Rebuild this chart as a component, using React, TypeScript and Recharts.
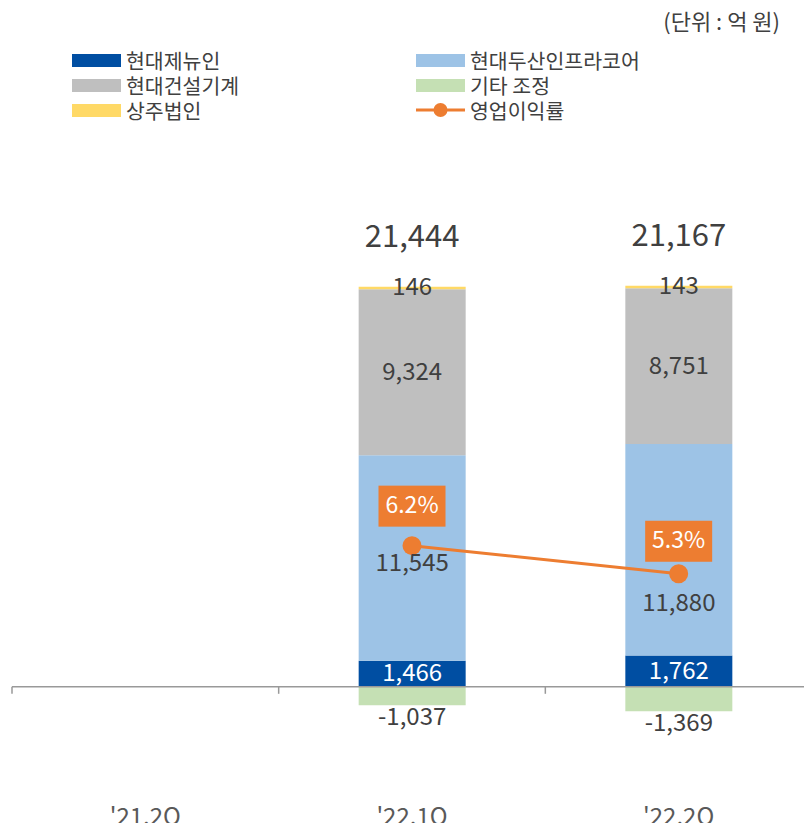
import { ComposedChart, Bar, Line, XAxis, YAxis, LabelList, ReferenceLine } from 'recharts'

const quarters = ["'21.2Q", "'22.1Q", "'22.2Q"]
const jenuine = [null, 1466, 1762]
const infracore = [null, 11545, 11880]
const construction = [null, 9324, 8751]
const subsidiary = [null, 146, 143]
const adjustment = [null, -1037, -1369]
const opMargin = [null, 6.2, 5.3]

const FONT = "'Noto Sans CJK KR', 'Noto Sans', sans-serif"
const TEXT = '#404040'
const ORANGE = '#ED7D31'

const colors = {
  jenuine: '#004EA2',
  infracore: '#9DC3E6',
  construction: '#BFBFBF',
  adjustment: '#C5E0B4',
  subsidiary: '#FFD966',
}

const data = quarters.map((quarter, i) => ({
  quarter,
  jenuine: jenuine[i],
  infracore: infracore[i],
  construction: construction[i],
  subsidiary: subsidiary[i],
  adjustment: adjustment[i],
  opMargin: opMargin[i],
}))

const totals = quarters.map((_, i) =>
  jenuine[i] == null
    ? null
    : (jenuine[i] as number) + (infracore[i] as number) + (construction[i] as number) +
      (subsidiary[i] as number) + (adjustment[i] as number)
)

const fmt = (v: number) => v.toLocaleString('en-US')

// the infracore label is nudged down so it clears the margin line
const infraShift = [0, 6, 54]
const boxGap = [15, 19, 12]
const LIFT = -3

// LabelList index skips empty entries, so find the category from payload or value
const catIndex = (p: any, arr: (number | null)[]) => {
  const q = p.payload?.quarter
  if (q != null) return quarters.indexOf(q)
  return arr.indexOf(p.value)
}

const box = (p: any) => {
  const vb = p.viewBox ?? p
  const x = vb.x ?? p.x
  const y = vb.y ?? p.y
  const w = vb.width ?? p.width ?? 0
  const h = vb.height ?? p.height ?? 0
  return { x, y, w, top: Math.min(y, y + h), bottom: Math.max(y, y + h) }
}

const centerLabel = (color: string, arr: (number | null)[], shift?: number[]) => (p: any) => {
  if (p.value == null) return null
  const b = box(p)
  const dy = shift ? shift[catIndex(p, arr)] ?? 0 : 0
  return (
    <text x={b.x + b.w / 2} y={(b.top + b.bottom) / 2 + dy + LIFT} fill={color} fontSize={24} fontFamily={FONT}
      textAnchor="middle" dominantBaseline="central">
      {fmt(p.value)}
    </text>
  )
}

const belowLabel = (p: any) => {
  if (p.value == null) return null
  const b = box(p)
  return (
    <text x={b.x + b.w / 2} y={b.bottom + 12 + LIFT} fill={TEXT} fontSize={24} fontFamily={FONT}
      textAnchor="middle" dominantBaseline="central">
      {fmt(p.value)}
    </text>
  )
}

const totalLabel = (p: any) => {
  if (p.value == null) return null
  const t = totals[catIndex(p, subsidiary)]
  if (t == null) return null
  const b = box(p)
  return (
    <text x={b.x + b.w / 2} y={b.top - 50 + LIFT} fill={TEXT} fontSize={31} fontFamily={FONT}
      textAnchor="middle" dominantBaseline="central">
      {fmt(t)}
    </text>
  )
}

const marginLabel = (p: any) => {
  if (p.value == null) return null
  const b = box(p)
  const w = 67
  const h = 41
  const gap = boxGap[catIndex(p, opMargin)] ?? 15
  return (
    <g>
      <rect x={b.x - w / 2} y={b.y - gap - h} width={w} height={h} fill={ORANGE} />
      <text x={b.x} y={b.y - gap - h / 2 + LIFT} fill="#fff" fontSize={23} fontFamily={FONT}
        textAnchor="middle" dominantBaseline="central">
        {p.value.toFixed(1)}%
      </text>
    </g>
  )
}

const ZeroAxis = (p: any) => {
  const { x1, x2, y1 } = p
  const step = (x2 - x1) / quarters.length
  const ticks = quarters.map((_, i) => x1 + i * step)
  return (
    <g>
      <line x1={x1} x2={x2} y1={y1} y2={y1} stroke="#999" strokeWidth={1.5} />
      {ticks.map((tx) => (
        <line key={tx} x1={tx} x2={tx} y1={y1} y2={y1 + 7} stroke="#999" strokeWidth={1.5} />
      ))}
    </g>
  )
}

const QuarterTick = (p: any) => (
  <text x={p.x} y={p.y + 56} fill="#595959" fontSize={24} fontFamily={FONT}
    textAnchor="middle" dominantBaseline="central">
    {p.payload.value}
  </text>
)

const legendItems = [
  { name: '현대제뉴인', color: colors.jenuine, col: 0, row: 0 },
  { name: '현대두산인프라코어', color: colors.infracore, col: 1, row: 0 },
  { name: '현대건설기계', color: colors.construction, col: 0, row: 1 },
  { name: '기타 조정', color: colors.adjustment, col: 1, row: 1 },
  { name: '상주법인', color: colors.subsidiary, col: 0, row: 2 },
]

const legendRow = (col: number, row: number) => ({
  position: 'absolute' as const,
  left: col ? 408 : 64,
  top: 40 + row * 25,
  height: 24,
  lineHeight: '24px',
  display: 'flex',
  alignItems: 'center',
  fontSize: 20.5,
  color: TEXT,
  whiteSpace: 'nowrap' as const,
})

export default function App() {
  return (
    <div style={{ position: 'relative', width: 804, height: 823, marginBottom: -8, fontFamily: FONT }}>
      <div style={{ position: 'absolute', right: 32, top: -1, fontSize: 22, color: TEXT, lineHeight: '26px' }}>
        (단위 : 억 원)
      </div>
      {legendItems.map((it) => (
        <div key={it.name} style={legendRow(it.col, it.row)}>
          <span style={{ display: 'inline-block', width: 49, height: 13, background: it.color, marginRight: 5 }} />
          {it.name}
        </div>
      ))}
      <div style={legendRow(1, 2)}>
        <svg width={49} height={20} style={{ marginRight: 5 }}>
          <line x1={0} x2={49} y1={10} y2={10} stroke={ORANGE} strokeWidth={3} />
          <circle cx={24.5} cy={10} r={7} fill={ORANGE} />
        </svg>
        영업이익률
      </div>
      <ComposedChart width={804} height={823} data={data} stackOffset="sign" barCategoryGap="30%"
        margin={{ top: 216, right: 0, left: 4, bottom: 13 }}>
        <XAxis dataKey="quarter" axisLine={false} tickLine={false} tickSize={0} tickMargin={0}
          height={60} interval={0} tick={<QuarterTick />} />
        <YAxis yAxisId="amt" hide domain={[-4000, 26000]} />
        <YAxis yAxisId="rate" hide orientation="right" domain={[-0.6, 16.5]} />
        <ReferenceLine yAxisId="amt" y={0} shape={ZeroAxis} />
        <Bar yAxisId="amt" dataKey="jenuine" name="현대제뉴인" stackId="s" fill={colors.jenuine} isAnimationActive={false}>
          <LabelList dataKey="jenuine" content={centerLabel('#fff', jenuine)} />
        </Bar>
        <Bar yAxisId="amt" dataKey="infracore" name="현대두산인프라코어" stackId="s" fill={colors.infracore} isAnimationActive={false}>
          <LabelList dataKey="infracore" content={centerLabel(TEXT, infracore, infraShift)} />
        </Bar>
        <Bar yAxisId="amt" dataKey="construction" name="현대건설기계" stackId="s" fill={colors.construction} isAnimationActive={false}>
          <LabelList dataKey="construction" content={centerLabel(TEXT, construction)} />
        </Bar>
        <Bar yAxisId="amt" dataKey="subsidiary" name="상주법인" stackId="s" fill={colors.subsidiary} isAnimationActive={false}>
          <LabelList dataKey="subsidiary" content={centerLabel(TEXT, subsidiary)} />
          <LabelList dataKey="subsidiary" content={totalLabel} />
        </Bar>
        <Bar yAxisId="amt" dataKey="adjustment" name="기타 조정" stackId="s" fill={colors.adjustment} isAnimationActive={false}>
          <LabelList dataKey="adjustment" content={belowLabel} />
        </Bar>
        <Line yAxisId="rate" dataKey="opMargin" name="영업이익률" stroke={ORANGE} strokeWidth={3}
          dot={{ r: 9.5, fill: ORANGE, stroke: 'none' }} activeDot={false} isAnimationActive={false}>
          <LabelList dataKey="opMargin" content={marginLabel} />
        </Line>
      </ComposedChart>
    </div>
  )
}
